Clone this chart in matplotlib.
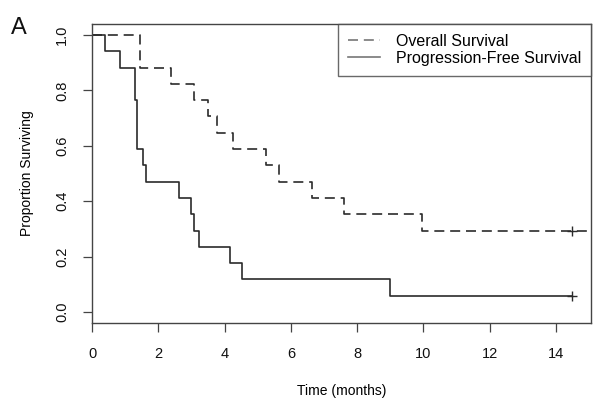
import numpy as np
import matplotlib
matplotlib.use("Agg")
import matplotlib.pyplot as plt

plt.rcParams['font.family'] = ['Liberation Sans', 'DejaVu Sans']

# -------------------------------------------------------------------------
# DATA (Kaplan-Meier step curves, n = 17)
# -------------------------------------------------------------------------
os_times = [0, 1.45, 2.37, 3.08, 3.51, 3.76, 4.26, 5.25, 5.63, 6.64, 7.60, 9.95, 15.0]
os_surv = [1.0, 0.882, 0.824, 0.765, 0.706, 0.647, 0.588, 0.529, 0.471, 0.412, 0.353, 0.294, 0.294]
os_censor_t = [14.47]
os_censor_s = [0.294]

pfs_times = [0, 0.39, 0.83, 1.30, 1.35, 1.55, 1.63, 2.64, 2.99, 3.09, 3.23, 4.16, 4.52, 9.0, 14.47]
pfs_surv = [1.0, 0.941, 0.882, 0.765, 0.588, 0.529, 0.471, 0.412, 0.353, 0.294, 0.235, 0.176, 0.118, 0.059, 0.059]
pfs_censor_t = [14.47]
pfs_censor_s = [0.059]

x_ticks = [0, 2, 4, 6, 8, 10, 12, 14]
y_ticks = [0.0, 0.2, 0.4, 0.6, 0.8, 1.0]

LINE_COLOR = "#2b2b2b"
AXIS_COLOR = "#444444"

fig = plt.figure(figsize=(6.01, 4.05), dpi=100)
ax = fig.add_axes([0.1531, 0.2025, 0.8298, 0.7382])

ax.step(os_times, os_surv, where="post", color=LINE_COLOR, lw=1.2,
        linestyle=(0, (6.0, 3.5)), label="Overall Survival")
ax.step(pfs_times, pfs_surv, where="post", color=LINE_COLOR, lw=1.2,
        label="Progression-Free Survival")
ax.plot(os_censor_t, os_censor_s, "+", color=LINE_COLOR, ms=7, mew=1.0)
ax.plot(pfs_censor_t, pfs_censor_s, "+", color=LINE_COLOR, ms=7, mew=1.0)

ax.set_xlim(0, 15.05)
ax.set_ylim(-0.04, 1.04)
ax.set_xticks(x_ticks)
ax.set_yticks(y_ticks)
ax.set_xticklabels([str(t) for t in x_ticks])
ax.set_yticklabels([f"{t:.1f}" for t in y_ticks], rotation=90, va="center")

for sp in ax.spines.values():
    sp.set_color(AXIS_COLOR)
    sp.set_linewidth(1.0)
ax.tick_params(axis="both", direction="out", length=6.5, width=0.9,
               color=AXIS_COLOR, labelsize=10.5, labelcolor="#111111")
ax.tick_params(axis="x", pad=11)
ax.tick_params(axis="y", pad=10)

ax.set_xlabel("Time (months)", fontsize=10, labelpad=16)
ax.set_ylabel("Proportion Surviving", fontsize=10, labelpad=15)

leg = ax.legend(loc="upper right", fontsize=11.5, frameon=True, fancybox=False,
                borderaxespad=0.0, handlelength=2.0, handletextpad=1.0,
                labelspacing=0.15, borderpad=0.6)
leg.get_frame().set_edgecolor(AXIS_COLOR)
leg.get_frame().set_linewidth(1.0)
for h in leg.get_lines():
    h.set_color("#777777")

fig.text(0.018, 0.915, "A", fontsize=17, color="#111111")

plt.savefig("out.png", dpi=100)
